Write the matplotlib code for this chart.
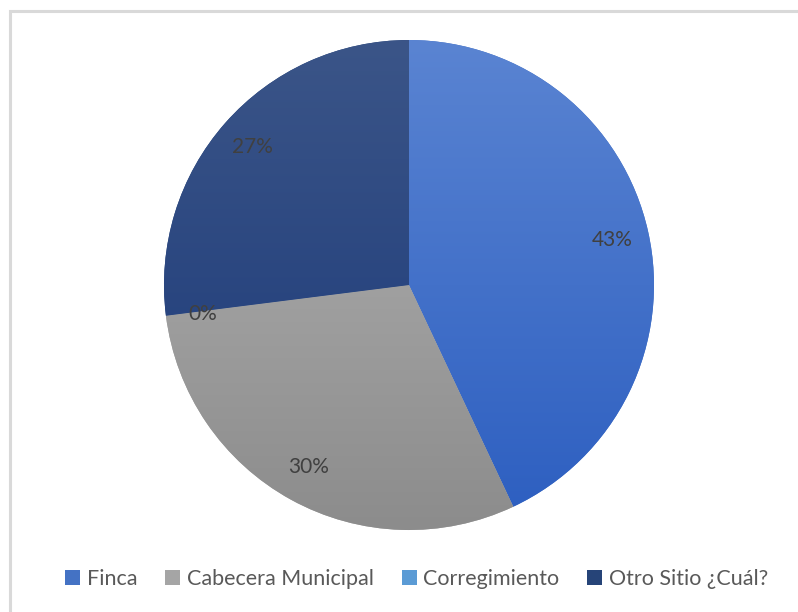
import matplotlib.pyplot as plt
import numpy as np
from matplotlib.patches import Rectangle
from matplotlib.colors import LinearSegmentedColormap

categories = ["Finca", "Cabecera Municipal", "Corregimiento", "Otro Sitio ¿Cuál?"]
values = [43, 30, 0, 27]
top_colors = ["#5a84d2", "#b4b4b4", "#6aa6dc", "#3b5588"]
bottom_colors = ["#2c5ec0", "#8c8c8c", "#4a8ccc", "#1a3878"]
mid_colors = ["#4472C4", "#A5A5A5", "#5B9BD5", "#264478"]

plt.rcParams['font.family'] = ['Lato', 'DejaVu Sans']

fig = plt.figure(figsize=(7.98, 6.12), dpi=100)
# chart border (top and left visible)
fig.patches.append(Rectangle((10/798, -0.1), 1.2, (612-11)/612 + 0.1, transform=fig.transFigure,
                             fill=False, edgecolor="#d9d9d9", linewidth=2.2))

R = 245
cx, cy = 409, 285
ax = fig.add_axes([(cx-R)/798, 1-(cy+R)/612, 2*R/798, 2*R/612])
wedges, texts, autotexts = ax.pie(values, startangle=90, counterclock=False,
                                  colors=mid_colors, autopct='%1.0f%%', pctdistance=0.85,
                                  textprops=dict(color="#404040", fontsize=15),
                                  wedgeprops=dict(linewidth=0))
ax.set_xlim(-1, 1)
ax.set_ylim(-1, 1)
ax.set_aspect('equal')

# vertical gradients clipped to each wedge
for w, t, b in zip(wedges, top_colors, bottom_colors):
    cmap = LinearSegmentedColormap.from_list("g", [b, t])
    grad = np.linspace(0, 1, 256).reshape(-1, 1)
    im = ax.imshow(grad, extent=[-1, 1, -1, 1], origin='lower', cmap=cmap,
                   aspect='auto', zorder=w.get_zorder() + 0.1, interpolation='bilinear')
    im.set_clip_path(w)
for t in autotexts:
    t.set_zorder(10)
x0, y0 = autotexts[2].get_position()
autotexts[2].set_position((x0, y0 - 0.01))

# legend
handles = [Rectangle((0, 0), 1, 1, facecolor=c) for c in mid_colors]
fig.legend(handles, categories, loc='center', bbox_to_anchor=(0.522, 1-579/612), ncol=4,
           frameon=False, fontsize=15.5, handlelength=0.7, handleheight=0.7,
           handletextpad=0.3, columnspacing=1.3, labelcolor="#595959")

fig.savefig("out.png", dpi=100)
